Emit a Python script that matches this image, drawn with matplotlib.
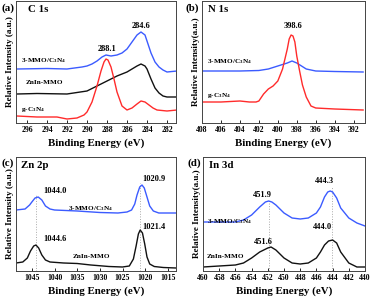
import matplotlib
matplotlib.use('Agg')
import matplotlib.pyplot as plt

plt.rcParams['font.family'] = 'Liberation Serif'
plt.rcParams['font.weight'] = 'bold'
plt.rcParams['mathtext.fontset'] = 'custom'
plt.rcParams['mathtext.rm'] = 'Liberation Serif:bold'
plt.rcParams['mathtext.bf'] = 'Liberation Serif:bold'
plt.rcParams['mathtext.it'] = 'Liberation Serif:bold:italic'
plt.rcParams['mathtext.default'] = 'rm'

BLUE = '#3b5bff'
RED = '#ff2b2b'
BLACK = '#111111'
COMP = '3-MMO/C$_3$N$_4$'
GCN = 'g-C$_3$N$_4$'

# (a) C 1s
c1s_e_blue = [297, 294, 292, 290.5, 290, 289.5, 289, 288.5, 288.1, 287.6, 287, 286.5, 286, 285.5, 285, 284.6, 284.2, 284, 283.6, 283.2, 282.8, 282.4, 282, 281.5, 281]
c1s_blue = [54, 54.5, 54, 56, 57, 59, 62, 66, 68, 67, 68, 70, 74, 81, 88, 91, 88, 82, 70, 61, 56, 53, 51, 51.5, 52]
c1s_e_black = [297, 295, 292, 290, 289, 288, 287, 286, 285.5, 285, 284.6, 284.2, 284, 283.6, 283.2, 282.8, 282.4, 282, 281]
c1s_black = [29, 29.5, 29, 32, 37, 42, 47, 51, 54, 57, 59, 57, 54, 44, 35, 30, 27, 26, 26]
c1s_e_red = [297, 295, 293, 292, 291, 290.3, 290, 289.5, 289, 288.6, 288.3, 288.1, 287.9, 287.6, 287.3, 287, 286.5, 286, 285.5, 285, 284.6, 284.2, 283.8, 283.4, 283, 282, 281]
c1s_red = [7, 6, 6, 4, 5, 8, 11, 21, 37, 52, 61, 64, 63, 56, 44, 31, 17, 13, 15, 19, 22, 21, 18, 15, 13, 12, 13]

# (b) N 1s
n1s_e_blue = [408, 404, 402, 401, 400, 399.5, 399, 398.5, 398, 397.5, 397, 396, 394, 391]
n1s_blue = [52, 52, 52.5, 54, 57, 58.5, 60, 62, 60, 57, 54, 52, 51.5, 51]
n1s_e_red = [408, 406, 404, 403, 402.3, 402, 401.5, 401, 400.5, 400, 399.5, 399, 398.8, 398.6, 398.4, 398.2, 398, 397.7, 397.4, 397, 396.5, 396, 394, 391]
n1s_red = [21, 21, 22, 21, 21, 22, 29, 34, 37, 42, 54, 74, 84, 88, 87, 81, 67, 52, 38, 26, 17, 15, 14, 13]

# (c) Zn 2p
zn_e_blue = [1048.5, 1046.5, 1045.5, 1045, 1044.3, 1043.6, 1042.8, 1042, 1041, 1040, 1035, 1030, 1026, 1024, 1023, 1022.3, 1021.8, 1021.2, 1020.7, 1020.2, 1019.6, 1019, 1018.2, 1017, 1013.2]
zn_blue = [61, 62, 66, 69, 73, 74, 71, 65, 62, 61, 60, 58.5, 58, 59, 61, 67, 76, 84, 86, 83, 74, 65, 60, 58, 58]
zn_e_black = [1048.5, 1047, 1046, 1045.3, 1044.6, 1044.1, 1043.5, 1042.8, 1042, 1041, 1038, 1035, 1032, 1028, 1025, 1023.5, 1022.6, 1022, 1021.5, 1021.1, 1020.6, 1020.1, 1019.6, 1019, 1018, 1016, 1013.2]
zn_black = [8, 9, 13, 20, 25, 26, 23, 16, 11, 9, 8, 7.5, 6, 4.5, 4, 5, 12, 25, 37, 41, 38, 27, 14, 7, 4.5, 3.5, 3]

# (d) In 3d
in_e_blue = [460, 456, 455, 454, 453, 452.3, 451.9, 451.5, 451, 450, 449, 448, 447, 446, 445.5, 445, 444.6, 444.3, 444, 443.5, 443, 442, 441, 440]
in_blue = [49, 49, 51, 56, 64, 69, 70, 69, 66, 58, 53, 52, 53, 58, 64, 74, 79, 80, 79, 73, 63, 53, 48, 45]
in_e_black = [460, 456, 455, 454, 453, 452, 451.6, 451, 450, 449, 448, 447, 446, 445.5, 445, 444.5, 444, 443.5, 443, 442, 441, 440]
in_black = [4, 6, 8, 13, 19, 23, 24, 21, 13, 8, 7, 8, 13, 19, 26, 30, 31, 28, 19, 8, 4, 4]

fig = plt.figure(figsize=(3.71, 3.01), dpi=100)
ax_a = fig.add_axes([16/371, 1-123/301, 160/371, 122/301])
ax_b = fig.add_axes([202/371, 1-123/301, 163/371, 122/301])
ax_c = fig.add_axes([16/371, 1-271/301, 160/371, 114/301])
ax_d = fig.add_axes([203/371, 1-271/301, 162/371, 114/301])

def style(ax, xlim, ylim, ticks, ylabel):
    ax.set_xlim(*xlim)
    ax.set_ylim(*ylim)
    ax.set_xticks(ticks)
    ax.set_yticks([])
    ax.tick_params(axis='x', direction='in', length=2, width=0.6, labelsize=5.6, pad=2)
    for lab in ax.get_xticklabels():
        lab.set_fontweight('bold')
    for s in ax.spines.values():
        s.set_linewidth(0.7)
        s.set_color('#444444')
    ax.set_xlabel('Binding Energy (eV)', fontsize=7.8, fontweight='bold', labelpad=3)
    ax.set_ylabel(ylabel, fontsize=6.6, fontweight='bold', labelpad=1.5)

small = dict(fontsize=5.2, fontweight='bold')
peak = dict(fontsize=6, fontweight='bold')
LW = 1.0

# (a)
ax_a.plot(c1s_e_blue, c1s_blue, color=BLUE, lw=LW)
ax_a.plot(c1s_e_black, c1s_black, color=BLACK, lw=LW)
ax_a.plot(c1s_e_red, c1s_red, color=RED, lw=LW)
style(ax_a, (297.1, 281.1), (0, 122), list(range(296, 281, -2)), 'Relative Intensity (a.u.)')
ax_a.text(296.6, 62, COMP, va='center', **small)
ax_a.text(296.1, 40, 'ZnIn-MMO', va='center', **small)
ax_a.text(296.6, 14, GCN, va='center', **small)
ax_a.text(288.0, 74, '288.1', ha='center', va='center', **peak)
ax_a.text(284.6, 97, '284.6', ha='center', va='center', **peak)
ax_a.text(295.9, 114, 'C 1s', va='center', fontsize=7.8, fontweight='bold')

# (b)
ax_b.plot(n1s_e_blue, n1s_blue, color=BLUE, lw=LW)
ax_b.plot(n1s_e_red, n1s_red, color=RED, lw=LW)
style(ax_b, (408, 390.8), (0, 122), list(range(408, 391, -2)), 'Relative Intensity(a.u.)')
ax_b.text(407.5, 61, COMP, va='center', **small)
ax_b.text(407.5, 27, GCN, va='center', **small)
ax_b.text(398.4, 97, '398.6', ha='center', va='center', **peak)
ax_b.text(407.4, 114, 'N 1s', va='center', fontsize=7.8, fontweight='bold')

# (c)
ax_c.axvline(1044.1, ymax=76/114, color='#aaaaaa', lw=0.7, ls=':')
ax_c.axvline(1021.1, ymax=88/114, color='#aaaaaa', lw=0.7, ls=':')
ax_c.plot(zn_e_blue, zn_blue, color=BLUE, lw=LW)
ax_c.plot(zn_e_black, zn_black, color=BLACK, lw=LW)
style(ax_c, (1048.5, 1013.2), (0, 114), list(range(1045, 1014, -5)), 'Relative Intensity (a.u.)')
ax_c.text(1042.4, 80, '1044.0', va='center', **peak)
ax_c.text(1020.7, 92, '1020.9', va='center', **peak)
ax_c.text(1042.4, 32, '1044.6', va='center', **peak)
ax_c.text(1020.7, 44, '1021.4', va='center', **peak)
ax_c.text(1037.0, 62, COMP, va='center', **small)
ax_c.text(1036.1, 14, 'ZnIn-MMO', va='center', **small)
ax_c.text(1047.4, 106, 'Zn 2p', va='center', fontsize=7.8, fontweight='bold')

# (d)
ax_d.axvline(451.85, ymax=72/114, color='#aaaaaa', lw=0.7, ls=':')
ax_d.axvline(444.1, ymax=85/114, color='#aaaaaa', lw=0.7, ls=':')
ax_d.plot(in_e_blue, in_blue, color=BLUE, lw=LW)
ax_d.plot(in_e_black, in_black, color=BLACK, lw=LW)
style(ax_d, (460, 440), (0, 114), list(range(460, 439, -2)), 'Relative Intensity(a.u.)')
ax_d.text(452.7, 76, '451.9', ha='center', va='center', **peak)
ax_d.text(445.0, 90, '444.3', ha='center', va='center', **peak)
ax_d.text(452.5, 29, '451.6', ha='center', va='center', **peak)
ax_d.text(445.2, 44, '444.0', ha='center', va='center', **peak)
ax_d.text(459.5, 49, COMP, va='center', **small)
ax_d.text(459.5, 14, 'ZnIn-MMO', va='center', **small)
ax_d.text(459.3, 106, 'In 3d', va='center', fontsize=7.8, fontweight='bold')

fig.text(2/371, 1-8/301, '(a)', va='center', fontsize=7.8, fontweight='bold')
fig.text(186/371, 1-8/301, '(b)', va='center', fontsize=7.8, fontweight='bold')
fig.text(2/371, 1-163/301, '(c)', va='center', fontsize=7.8, fontweight='bold')
fig.text(187/371, 1-163/301, '(d)', va='center', fontsize=7.8, fontweight='bold')

fig.savefig('out.png', dpi=100)
